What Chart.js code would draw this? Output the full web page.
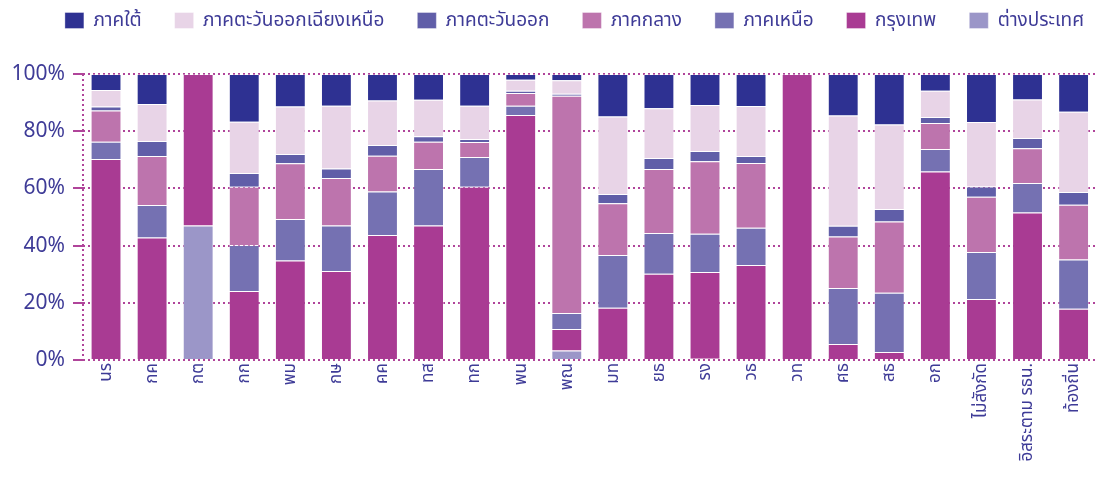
<!DOCTYPE html>
<html>
<head>
<meta charset="utf-8">
<script src="https://cdn.jsdelivr.net/npm/chart.js@4"></script>
<style>
  body { margin: 0; background: #fff; }
  #wrap { width: 1097px; height: 489px; }
</style>
</head>
<body>
<div id="wrap"><canvas id="grafico"></canvas></div>
<script>
const categorias = ["นร", "กค", "กต", "กก", "พม", "กษ", "คค", "ทส", "ทก", "พน", "พณ",
  "มท", "ยธ", "รง", "วธ", "วท", "ศธ", "สธ", "อก", "ไม่สังกัด", "อิสระตาม รธน.", "ท้องถิ่น"];

// bottom to top of each bar
const ต่างประเทศ = [0, 0, 47.0, 0, 0, 0, 0, 0, 0, 0, 3.3, 0, 0, 0.4, 0, 0, 0, 0, 0.3, 0, 0, 0];
const กรุงเทพ = [70.3, 42.8, 53.0, 24.1, 34.8, 31.1, 43.7, 47.0, 60.6, 85.7, 7.5, 18.3, 30.2, 30.4, 33.2, 100, 5.6, 2.8, 65.6, 21.3, 51.6, 17.9];
const ภาคเหนือ = [6.0, 11.4, 0, 16.1, 14.5, 15.9, 15.2, 19.8, 10.4, 3.2, 5.6, 18.4, 14.2, 13.3, 13.0, 0, 19.6, 20.7, 7.9, 16.5, 10.3, 17.2];
const ภาคกลาง = [10.9, 17.1, 0, 20.4, 19.5, 16.6, 12.5, 9.5, 5.2, 4.5, 76.0, 18.1, 22.4, 25.4, 22.7, 0, 18.0, 24.9, 9.1, 19.3, 12.1, 19.2];
const ภาคตะวันออก = [1.4, 5.3, 0, 4.8, 3.2, 3.4, 3.8, 1.9, 1.1, 0.7, 0.7, 3.2, 3.8, 3.6, 2.4, 0, 3.7, 4.4, 2.1, 3.6, 3.6, 4.4];
const ภาคอีสาน = [5.8, 12.9, 0, 17.9, 16.6, 21.9, 15.5, 12.8, 11.6, 3.9, 4.7, 27.1, 17.4, 16.1, 17.5, 0, 38.6, 29.5, 9.1, 22.5, 13.5, 28.1];
const ภาคใต้ = [5.6, 10.5, 0, 16.7, 11.4, 11.1, 9.3, 9.0, 11.1, 2.0, 2.2, 14.9, 12.0, 10.8, 11.2, 0, 14.5, 17.7, 5.9, 16.8, 8.9, 13.2];

const ticksY = [0, 20, 40, 60, 80, 100];

const corTexto = "#3e3b97";
const corGrade = "#b0449a";

function serie(nome, dados, cor) {
  return {
    label: nome,
    data: dados,
    backgroundColor: cor,
    borderColor: "rgba(255,255,255,0.35)",
    borderWidth: 1,
    barPercentage: 0.67,
    categoryPercentage: 1
  };
}

const fonte = "'Noto Sans', 'Noto Sans Thai', sans-serif";

new Chart(document.querySelector("#grafico"), {
  type: "bar",
  data: {
    labels: categorias,
    datasets: [
      serie("ต่างประเทศ", ต่างประเทศ, "#9b96c8"),
      serie("กรุงเทพ", กรุงเทพ, "#a93b93"),
      serie("ภาคเหนือ", ภาคเหนือ, "#7571b2"),
      serie("ภาคกลาง", ภาคกลาง, "#bd74ad"),
      serie("ภาคตะวันออก", ภาคตะวันออก, "#605ea8"),
      serie("ภาคตะวันออกเฉียงเหนือ", ภาคอีสาน, "#e8d4e7"),
      serie("ภาคใต้", ภาคใต้, "#2e3192")
    ]
  },
  options: {
    responsive: true,
    maintainAspectRatio: false,
    animation: false,
    layout: { padding: { left: 6, right: 0, top: -22, bottom: 0 } },
    plugins: {
      legend: {
        reverse: true,
        labels: {
          boxWidth: 19,
          boxHeight: 16,
          padding: 33,
          color: corTexto,
          font: { family: fonte, size: 19 }
        }
      },
      tooltip: { enabled: false }
    },
    scales: {
      x: {
        stacked: true,
        // só a primeira linha (borda esquerda), pontilhada
        grid: {
          color: ctx => ctx.index === 0 ? corGrade : "rgba(0,0,0,0)",
          lineWidth: 2,
          drawTicks: false
        },
        border: { display: false, dash: [2, 3] },
        afterFit: eixo => { eixo.height = 129; },
        ticks: {
          minRotation: 90,
          maxRotation: 90,
          color: corTexto,
          font: { family: fonte, size: 17 }
        }
      },
      y: {
        stacked: true,
        min: 0,
        max: 100,
        afterBuildTicks: eixo => { eixo.ticks = ticksY.map(v => ({ value: v })); },
        afterFit: eixo => { eixo.width = 77; },
        grid: { color: corGrade, lineWidth: 2, tickLength: 10 },
        border: { display: false, dash: [2, 3] },
        ticks: {
          color: corTexto,
          padding: 8,
          font: { family: fonte, size: 21 },
          callback: v => v + "%"
        }
      }
    }
  },
  plugins: [{
    id: "margemLegenda",
    afterInit(chart) {
      // altura fixa da legenda: o topo da área do gráfico fica em 74px
      const fit = chart.legend.fit;
      chart.legend.fit = function () {
        fit.call(this);
        this.height = 96;
      };
    },
    afterLayout(chart) {
      // a legenda do original fica um pouco à direita do centro
      chart.legend.left += 23;
      chart.legend.right += 23;
    }
  }]
});
</script>
</body>
</html>
